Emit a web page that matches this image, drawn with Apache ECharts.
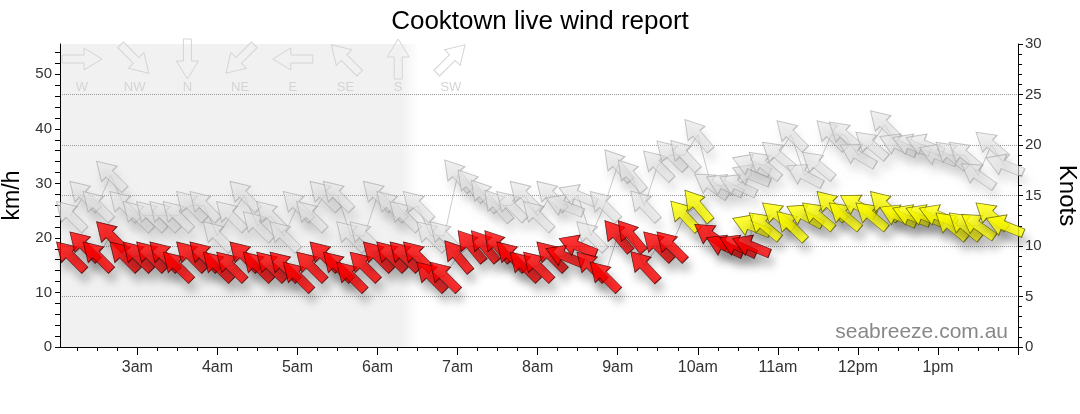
<!DOCTYPE html>
<html><head><meta charset="utf-8">
<script src="https://cdn.jsdelivr.net/npm/echarts@6/dist/echarts.min.js"></script>
<style>html,body{margin:0;padding:0;background:#fff}#c{width:1080px;height:414px}</style>
</head><body><div id="c"></div>
<script>
// ---- data (knots, wind direction "from" in degrees) ----
const times = ["02:10","02:20","02:30","02:40","02:50","03:00","03:10","03:20","03:30","03:40",
  "03:50","04:00","04:10","04:20","04:30","04:40","04:50","05:00","05:10","05:20",
  "05:30","05:40","05:50","06:00","06:10","06:20","06:30","06:40","06:50","07:00",
  "07:10","07:20","07:30","07:40","07:50","08:00","08:10","08:20","08:30","08:40",
  "08:50","09:00","09:10","09:20","09:30","09:40","09:50","10:00","10:10","10:20",
  "10:30","10:40","10:40","10:50","11:00","11:10","11:20","11:30","11:40","11:50",
  "12:00","12:10","12:20","12:30","12:40","12:50","13:00","13:10","13:20","13:30",
  "13:40","13:50"];
const speedKnots = [9,10,9,11,9,9,9,9,8,9,
  9,8,8,9,8,8,8,7,8,9,
  8,7,8,9,9,9,9,7,7,9,
  10,10,10,9,8,8,9,9,10,8,
  7,11,11,8,10,10,13,14,11,10,
  10,10,12,12,13,12,13,13,14,13,
  14,13,14,13,13,13,13,12,12,12,
  13,12];
const gustKnots = [13,15,14,17,14,13,13,13,13,14,
  14,11,13,15,12,13,11,14,13,15,
  15,11,11,15,14,13,14,11,11,17,
  16,15,14,14,15,13,15,14,15,11,
  14,18,17,14,18,19,19,21,16,16,
  16,17,18,18,19,21,17,18,21,21,
  19,20,22,20,20,20,19,19,19,17,
  20,18];
const dirFrom = [135,135,135,135,135,135,135,135,135,135,
  135,135,135,135,135,135,135,135,135,135,
  135,135,135,135,135,135,135,135,135,140,
  140,140,140,135,135,135,135,112,112,135,
  135,140,140,137,135,135,137,140,125,115,
  115,112,112,130,130,135,118,130,135,130,
  120,130,135,115,112,112,112,130,130,125,
  130,112];
const axisStart = "02:02", axisEnd = "14:00";
const nightEnd = "06:31";
const hourLabels = ["03:00","04:00","05:00","06:00","07:00","08:00","09:00","10:00","11:00","12:00","13:00"];
const hourTicks = hourLabels.concat(["14:00"]);
const kmhLabels = [0,10,20,30,40,50];
const compassLabels = ["W","NW","N","NE","E","SE","S","SW"];
const compassFrom = [270,315,0,45,90,135,180,225];
const title = "Cooktown live wind report";
const watermark = "seabreeze.com.au";

// ---- helpers ----
const KMH_PER_KNOT = 1.852;
const YELLOW_FROM = 12;
const FONT = "'Liberation Sans', Arial, sans-serif";
const ARROW = 'path://M11,0 L22,18 L15.5,18 L15.5,40 L6.5,40 L6.5,18 L0,18 Z';
const ARROW_PTS = [[0,-20],[11,-2],[4,-2],[4,20],[-4,20],[-4,-2],[-11,-2]];
function toMin(s){const p=s.split(':').map(Number);return p[0]*60+p[1];}
function fmtHour(v){const h=Math.round(v/60)%24; if(h===0)return '12am'; if(h<12)return h+'am'; if(h===12)return '12pm'; return (h-12)+'pm';}
function rot(from){return -(from+180);}
const xMin = toMin(axisStart), xMax = toMin(axisEnd);
const minorX = []; for(let m=Math.ceil(xMin/15)*15; m<=xMax; m+=15) minorX.push(m);
const kmhTicks = []; for(let v=0; v<=30*KMH_PER_KNOT; v+=2) kmhTicks.push(v);

const speedPts = times.map((t,i)=>({
  value:[toMin(t), speedKnots[i]],
  symbolRotate: rot(dirFrom[i]),
  itemStyle:{color: speedKnots[i]>=YELLOW_FROM ? '#ffff00' : '#ff0000',
             borderColor: speedKnots[i]>=YELLOW_FROM ? '#5a5a00' : '#400000'}
}));
const gustPts = times.map((t,i)=>({
  value:[toMin(t), gustKnots[i]],
  symbolRotate: rot(dirFrom[i])
}));

const chart = echarts.init(document.getElementById('c'), null, {renderer:'canvas'});

// compass legend graphics
const legendEls = [];
compassLabels.forEach((lab,i)=>{
  const cx = 82 + 52.7*i, cy = 59;
  legendEls.push({type:'polygon', x:cx, y:cy, rotation: rot(compassFrom[i])*Math.PI/180, silent:true, z:50,
    shape:{points:ARROW_PTS},
    style:{fill:'none', stroke:'#d4d4d4', lineWidth:1}});
  legendEls.push({type:'text', x:cx, y:87, silent:true, z:50,
    style:{text:lab, fill:'#d4d4d4', font:'13px '+FONT, align:'center', verticalAlign:'middle'}});
});

chart.setOption({
  animation:false,
  backgroundColor:'#fff',
  title:{text:title, left:'center', top:4, textStyle:{fontFamily:FONT, fontSize:26, fontWeight:'normal', color:'#000'}},
  grid:{left:60, right:62, top:44, bottom:67, containLabel:false, outerBoundsMode:'none'},
  xAxis:[{
    type:'value', min:xMin, max:xMax, position:'bottom',
    axisLine:{show:true, onZero:false, lineStyle:{color:'#000'}},
    axisTick:{show:true, length:8, customValues: hourTicks.map(toMin), lineStyle:{color:'#000'}},
    axisLabel:{customValues: hourLabels.map(toMin), formatter: fmtHour, color:'#333', fontSize:16, fontFamily:FONT, margin:13},
    splitLine:{show:false}
  },{
    type:'value', min:xMin, max:xMax, position:'bottom',
    axisLine:{show:false},
    axisTick:{show:true, length:4, customValues: minorX, lineStyle:{color:'#000'}},
    axisLabel:{show:false}, splitLine:{show:false}
  }],
  yAxis:[{
    type:'value', min:0, max:30*KMH_PER_KNOT, position:'left',
    name:'km/h', nameLocation:'middle', nameGap:27, nameRotate:90,
    nameTextStyle:{fontFamily:FONT, fontSize:23, color:'#000'},
    axisLine:{show:true, lineStyle:{color:'#000'}},
    axisTick:{show:true, length:5, customValues:kmhTicks, lineStyle:{color:'#000'}},
    axisLabel:{customValues:kmhLabels, color:'#333', fontSize:15, fontFamily:FONT, margin:8},
    splitLine:{show:false}
  },{
    type:'value', min:0, max:30, interval:5, position:'right',
    name:'Knots', nameLocation:'middle', nameGap:37, nameRotate:-90,
    nameTextStyle:{fontFamily:FONT, fontSize:24, color:'#000'},
    axisLine:{show:true, lineStyle:{color:'#000'}},
    axisTick:{show:true, length:5, lineStyle:{color:'#000'}},
    minorTick:{show:true, splitNumber:5, length:4, lineStyle:{color:'#000'}},
    axisLabel:{color:'#333', fontSize:15, fontFamily:FONT, margin:7},
    splitLine:{show:true, showMinLine:false, showMaxLine:false, lineStyle:{color:'#999', type:'dotted', width:1}},
    minorSplitLine:{show:false}
  }],
  graphic:{elements: legendEls.concat([
    {type:'text', right:72, top:322, silent:true, z:100,
     style:{text:watermark, fill:'#888', font:'21px '+FONT}}
  ])},
  series:[
    {type:'line', name:'night', xAxisIndex:0, yAxisIndex:1, data:[], silent:true, z:-1,
     markArea:{silent:true, z:-1, itemStyle:{color:{type:'linear', x:0, y:0, x2:1, y2:0,
        colorStops:[{offset:0,color:'#f1f1f1'},{offset:0.95,color:'#f1f1f1'},{offset:1,color:'#ffffff'}]}},
       data:[[{xAxis:xMin},{xAxis:toMin(nightEnd)}]]}},
    {type:'line', name:'gustLine', xAxisIndex:0, yAxisIndex:1, z:2, silent:true, symbol:'none',
     data: times.map((t,i)=>[toMin(t), gustKnots[i]]),
     lineStyle:{color:'rgba(170,170,170,0.6)', width:1}},
    {type:'scatter', name:'Gust', xAxisIndex:0, yAxisIndex:1, z:3, silent:true,
     symbol:ARROW, symbolSize:[22,40], data:gustPts, clip:false,
     itemStyle:{color:'rgba(228,228,228,0.75)', borderColor:'rgba(165,165,165,0.8)', borderWidth:1,
       shadowBlur:8, shadowColor:'rgba(0,0,0,0.15)', shadowOffsetX:3, shadowOffsetY:9}},
    {type:'line', name:'speedLine', xAxisIndex:0, yAxisIndex:1, z:4, silent:true, symbol:'none',
     data: times.map((t,i)=>[toMin(t), speedKnots[i]]),
     lineStyle:{color:'rgba(160,160,160,0.7)', width:1}},
    {type:'scatter', name:'Speed', xAxisIndex:0, yAxisIndex:1, z:5, silent:true,
     symbol:ARROW, symbolSize:[22,40], data:speedPts, clip:false,
     itemStyle:{borderWidth:0.8, shadowBlur:8, shadowColor:'rgba(0,0,0,0.3)', shadowOffsetX:3, shadowOffsetY:9}}
  ]
});
</script></body></html>
